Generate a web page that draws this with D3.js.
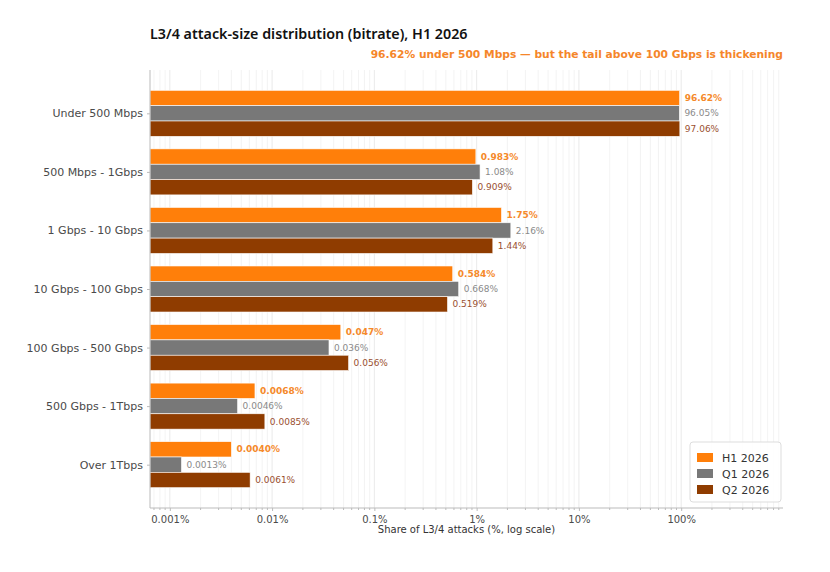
<!DOCTYPE html>
<head>
  <meta charset="utf-8">
  <script src="https://d3js.org/d3.v7.min.js"></script>
  <style>
    body { margin:0; background:#fff; font-family: "DejaVu Sans", sans-serif; }
    .axis text { font-family: "DejaVu Sans", sans-serif; fill:#4a4a4a; }
    .axis path, .axis line { stroke:#bbb; }
  </style>
</head>
<body>
<script>
  // bitrate buckets, top to bottom
  var categories = ["Under 500 Mbps", "500 Mbps - 1Gbps", "1 Gbps - 10 Gbps", "10 Gbps - 100 Gbps",
                    "100 Gbps - 500 Gbps", "500 Gbps - 1Tbps", "Over 1Tbps"];
  var seriesNames = ["H1 2026", "Q1 2026", "Q2 2026"];
  var h1 = [96.62, 0.983, 1.75, 0.584, 0.047, 0.0068, 0.0040];
  var q1 = [96.05, 1.08, 2.16, 0.668, 0.036, 0.0046, 0.0013];
  var q2 = [97.06, 0.909, 1.44, 0.519, 0.056, 0.0085, 0.0061];
  var h1Labels = ["96.62%", "0.983%", "1.75%", "0.584%", "0.047%", "0.0068%", "0.0040%"];
  var q1Labels = ["96.05%", "1.08%", "2.16%", "0.668%", "0.036%", "0.0046%", "0.0013%"];
  var q2Labels = ["97.06%", "0.909%", "1.44%", "0.519%", "0.056%", "0.0085%", "0.0061%"];
  var xTicks = [0.001, 0.01, 0.1, 1, 10, 100];
  var xTickLabels = ["0.001%", "0.01%", "0.1%", "1%", "10%", "100%"];

  var colors = ["#ff7f0a", "#787878", "#8f3c00"];
  var labelColors = ["#f5892a", "#8a8a8a", "#9a5030"];

  var W = 830, H = 572;
  var plotL = 150, plotR = 783, plotT = 70, plotB = 508;

  var svg = d3.select("body").append("svg")
      .attr("width", W).attr("height", H);

  var x = d3.scaleLog().domain([0.00064, 990]).range([plotL, plotR]);
  var y = d3.scalePoint().domain(categories).range([plotT, plotB]).padding(0.74);
  var barH = y.step() * 0.262;

  // grid: major + minor decades
  var gridVals = [];
  for (var e = -4; e <= 2; e++) {
    for (var m = 1; m <= 9; m++) {
      var v = m * Math.pow(10, e);
      if (v >= x.domain()[0] && v <= x.domain()[1]) gridVals.push(v);
    }
  }
  svg.append("g").selectAll("line")
      .data(gridVals).enter().append("line")
      .attr("x1", d => x(d)).attr("x2", d => x(d))
      .attr("y1", plotT).attr("y2", plotB)
      .attr("stroke", d => xTicks.indexOf(d) >= 0 ? "#e4e4e4" : "#f0f0f0")
      .attr("stroke-width", 0.8);

  // bars
  var series = [h1, q1, q2];
  var labels = [h1Labels, q1Labels, q2Labels];
  series.forEach(function (vals, s) {
    var g = svg.append("g");
    g.selectAll("rect")
        .data(vals).enter().append("rect")
        .attr("x", plotL)
        .attr("y", (d, i) => y(categories[i]) + (s - 1.5) * barH)
        .attr("width", d => x(d) - plotL)
        .attr("height", barH)
        .attr("fill", colors[s])
        .attr("stroke", "#fff")
        .attr("stroke-width", 0.6);
    g.selectAll("text")
        .data(vals).enter().append("text")
        .attr("x", d => x(d) + 5)
        .attr("y", (d, i) => y(categories[i]) + (s - 1) * barH)
        .attr("dy", "0.35em")
        .attr("font-size", 9)
        .attr("font-weight", s === 0 ? "bold" : "normal")
        .attr("fill", labelColors[s])
        .text((d, i) => labels[s][i]);
  });

  // axes
  var xAxis = d3.axisBottom(x).tickValues(xTicks)
      .tickFormat((d, i) => xTickLabels[i]).tickSize(3).tickPadding(5);
  var gx = svg.append("g").attr("class", "axis")
      .attr("transform", "translate(0," + plotB + ")")
      .call(xAxis);
  gx.select(".domain").attr("d", "M" + plotL + ",0H" + plotR);
  gx.selectAll("text").attr("font-size", 10);
  gx.selectAll(".minor").data(gridVals.filter(d => xTicks.indexOf(d) < 0))
      .enter().append("line").attr("class", "minor")
      .attr("x1", d => x(d)).attr("x2", d => x(d))
      .attr("y1", 0).attr("y2", 2).attr("stroke", "#bbb");

  var yAxis = d3.axisLeft(y).tickSize(3).tickPadding(4);
  var gy = svg.append("g").attr("class", "axis")
      .attr("transform", "translate(" + plotL + ",0)")
      .call(yAxis);
  gy.select(".domain").attr("d", "M0," + plotT + "V" + plotB);
  gy.selectAll("text").attr("font-size", 11);

  svg.append("text")
      .attr("x", (plotL + plotR) / 2).attr("y", 533)
      .attr("text-anchor", "middle")
      .attr("font-size", 10).attr("fill", "#333")
      .text("Share of L3/4 attacks (%, log scale)");

  // title + subtitle
  svg.append("text")
      .attr("x", plotL).attr("y", 39)
      .attr("font-family", "Noto Sans").attr("font-weight", 600)
      .attr("font-size", 14.3).attr("fill", "#111")
      .text("L3/4 attack-size distribution (bitrate), H1 2026");
  svg.append("text")
      .attr("x", plotR).attr("y", 58)
      .attr("text-anchor", "end")
      .attr("font-family", "DejaVu Sans").attr("font-weight", "bold")
      .attr("font-size", 10.7).attr("fill", "#f5862a")
      .text("96.62% under 500 Mbps \u2014 but the tail above 100 Gbps is thickening");

  // legend
  var lg = svg.append("g").attr("transform", "translate(690,442)");
  lg.append("rect").attr("width", 91).attr("height", 60).attr("rx", 3)
      .attr("fill", "#fff").attr("fill-opacity", 0.85)
      .attr("stroke", "#ddd");
  seriesNames.forEach(function (n, i) {
    lg.append("rect").attr("x", 7).attr("y", 11 + i * 16)
        .attr("width", 16).attr("height", 9).attr("fill", colors[i]);
    lg.append("text").attr("x", 32).attr("y", 16 + i * 16)
        .attr("dy", "0.35em").attr("font-size", 11).attr("fill", "#333")
        .text(n);
  });
</script>
</body>
